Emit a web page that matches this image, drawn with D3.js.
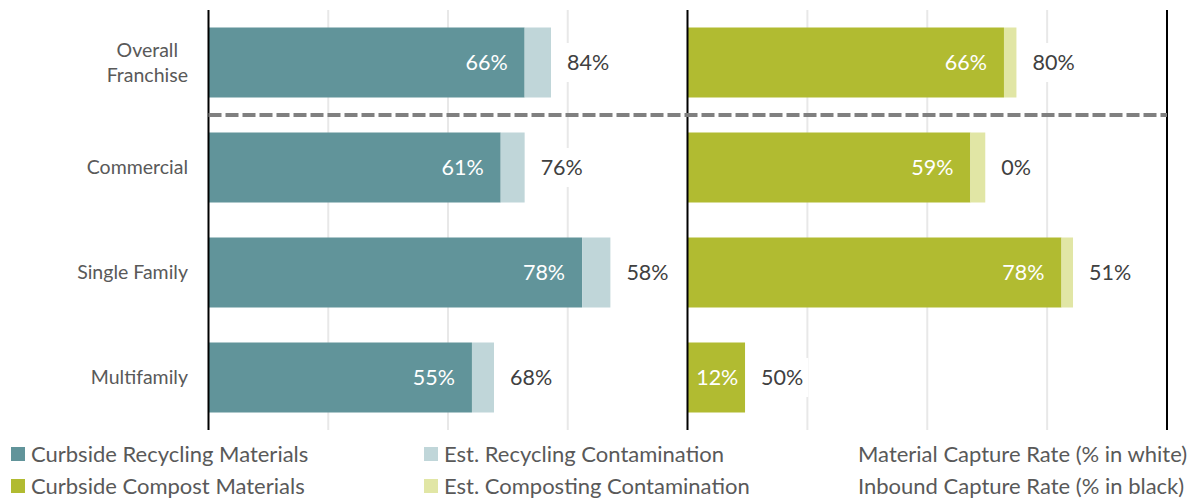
<!DOCTYPE html>
<html>
<head>
<meta charset="utf-8">
<script src="https://cdn.jsdelivr.net/npm/d3@7"></script>
<style>
  html, body { margin: 0; padding: 0; background: #fff; }
  svg { display: block; font-family: Lato, "Open Sans", sans-serif; }
</style>
</head>
<body>
<svg id="chart" width="1200" height="502"></svg>
<script>
// Sector rows, top to bottom
const categories = ["Overall Franchise", "Commercial", "Single Family", "Multifamily"];

// Recycling panel (percent of generated material)
const recyclingMaterial = [66, 61, 78, 55];        // material capture rate
const recyclingContamination = [5.5, 5.0, 5.9, 4.6];
const recyclingInbound = [84, 76, 58, 68];         // inbound capture rate

// Compost panel
const compostMaterial = [66, 59, 78, 12];
const compostContamination = [2.6, 3.1, 2.4, 0];
const compostInbound = [80, 0, 51, 50];

const gridTicks = [25, 50, 75];

const legendItems = [
  { label: "Curbside Recycling Materials", color: "#61949A" },
  { label: "Est. Recycling Contamination", color: "#C0D6D9" },
  { label: "Material Capture Rate (% in white)", color: null },
  { label: "Curbside Compost Materials", color: "#B1BB31" },
  { label: "Est. Composting Contamination", color: "#E1E6A5" },
  { label: "Inbound Capture Rate (% in black)", color: null }
];

const svg = d3.select("#chart");

const plotTop = 10, plotBottom = 430;
const y = d3.scaleBand()
  .domain(categories)
  .range([plotTop, plotBottom])
  .paddingInner(1 / 3)
  .paddingOuter(1 / 6);

const panels = [
  {
    x: d3.scaleLinear().domain([0, 100]).range([208.5, 687.5]),
    material: recyclingMaterial, contamination: recyclingContamination, inbound: recyclingInbound,
    colors: ["#61949A", "#C0D6D9"]
  },
  {
    x: d3.scaleLinear().domain([0, 100]).range([687.5, 1167]),
    material: compostMaterial, contamination: compostContamination, inbound: compostInbound,
    colors: ["#B1BB31", "#E1E6A5"]
  }
];

// Gridlines
panels.forEach(p => {
  svg.append("g").selectAll("line")
    .data(gridTicks)
    .join("line")
    .attr("x1", d => p.x(d)).attr("x2", d => p.x(d))
    .attr("y1", plotTop).attr("y2", plotBottom)
    .attr("stroke", "#E8E8E8").attr("stroke-width", 2);
});

// Stacked bars and labels
panels.forEach(p => {
  const g = svg.append("g");
  const rows = categories.map((c, i) => ({
    cat: c, m: p.material[i], c: p.contamination[i], inb: p.inbound[i]
  }));

  g.selectAll("rect.material")
    .data(rows).join("rect")
    .attr("class", "material")
    .attr("x", p.x(0))
    .attr("y", d => y(d.cat))
    .attr("width", d => p.x(d.m) - p.x(0))
    .attr("height", y.bandwidth())
    .attr("fill", p.colors[0]);

  g.selectAll("rect.contam")
    .data(rows.filter(d => d.c > 0)).join("rect")
    .attr("class", "contam")
    .attr("x", d => p.x(d.m))
    .attr("y", d => y(d.cat))
    .attr("width", d => p.x(d.m + d.c) - p.x(d.m))
    .attr("height", y.bandwidth())
    .attr("fill", p.colors[1]);

  // White labels: material capture rate inside the bar
  g.selectAll("text.inside")
    .data(rows).join("text")
    .attr("class", "inside")
    .attr("fill", "#fff")
    .attr("font-size", 21.5)
    .attr("dy", "0.35em")
    .attr("y", d => y(d.cat) + y.bandwidth() / 2)
    .text(d => d.m + "%")
    .each(function (d) {
      const w = this.getComputedTextLength();
      const barW = p.x(d.m) - p.x(0);
      const t = d3.select(this);
      if (barW < w + 30) {
        t.attr("text-anchor", "middle").attr("x", (p.x(0) + p.x(d.m)) / 2 + 1);
      } else {
        t.attr("text-anchor", "end").attr("x", p.x(d.m) - 17);
      }
    });

  // Dark labels: inbound capture rate after the bar, on a white backing
  const outer = g.selectAll("g.outer")
    .data(rows).join("g")
    .attr("class", "outer")
    .attr("transform", d => `translate(${p.x(d.m + d.c) + 16},${y(d.cat) + y.bandwidth() / 2})`);
  outer.append("rect").attr("fill", "#fff");
  outer.append("text")
    .attr("fill", "#404040")
    .attr("font-size", 21.5)
    .attr("dy", "0.35em")
    .text(d => d.inb + "%");
  outer.each(function () {
    const t = d3.select(this).select("text");
    const w = t.node().getComputedTextLength();
    d3.select(this).select("rect")
      .attr("x", -5).attr("y", -19.5).attr("width", w + 10).attr("height", 39);
  });
});

// Panel axis lines
[panels[0].x(0), panels[1].x(0), panels[1].x(100)].forEach(xv => {
  svg.append("line")
    .attr("x1", xv).attr("x2", xv)
    .attr("y1", plotTop).attr("y2", plotBottom)
    .attr("stroke", "#000").attr("stroke-width", 2);
});

// Divider between the franchise total and the sectors
const divY = (y(categories[0]) + y.bandwidth() + y(categories[1])) / 2;
svg.append("line")
  .attr("x1", panels[0].x(0)).attr("x2", panels[1].x(100))
  .attr("y1", divY).attr("y2", divY)
  .attr("stroke", "#808080").attr("stroke-width", 4)
  .attr("stroke-dasharray", "13,4");

// Category labels (multi-line labels centred on their widest line)
const catG = svg.append("g");
categories.forEach(c => {
  const words = c === "Overall Franchise" ? ["Overall", "Franchise"] : [c];
  const cy = y(c) + y.bandwidth() / 2;
  const t = catG.append("text")
    .attr("fill", "#595959")
    .attr("font-size", 19.5)
    .attr("text-anchor", "middle");
  words.forEach((w, i) => {
    t.append("tspan")
      .attr("x", 0)
      .attr("y", cy + (i - (words.length - 1) / 2) * 25)
      .attr("dy", "0.35em")
      .text(w);
  });
  const bw = t.node().getBBox().width;
  t.selectAll("tspan").attr("x", 188 - bw / 2);
});

// Legend
const legendCols = [11, 424, 838];
const legendRows = [454, 486];
const lg = svg.append("g");
legendItems.forEach((item, i) => {
  const col = i % 3, row = Math.floor(i / 3);
  const gx = legendCols[col], gy = legendRows[row];
  if (item.color) {
    lg.append("rect")
      .attr("x", gx).attr("y", gy - 7)
      .attr("width", 14).attr("height", 14)
      .attr("fill", item.color);
  }
  lg.append("text")
    .attr("x", gx + 20).attr("y", gy)
    .attr("dy", "0.35em")
    .attr("fill", "#595959")
    .attr("font-size", 22)
    .text(item.label);
});
</script>
</body>
</html>
